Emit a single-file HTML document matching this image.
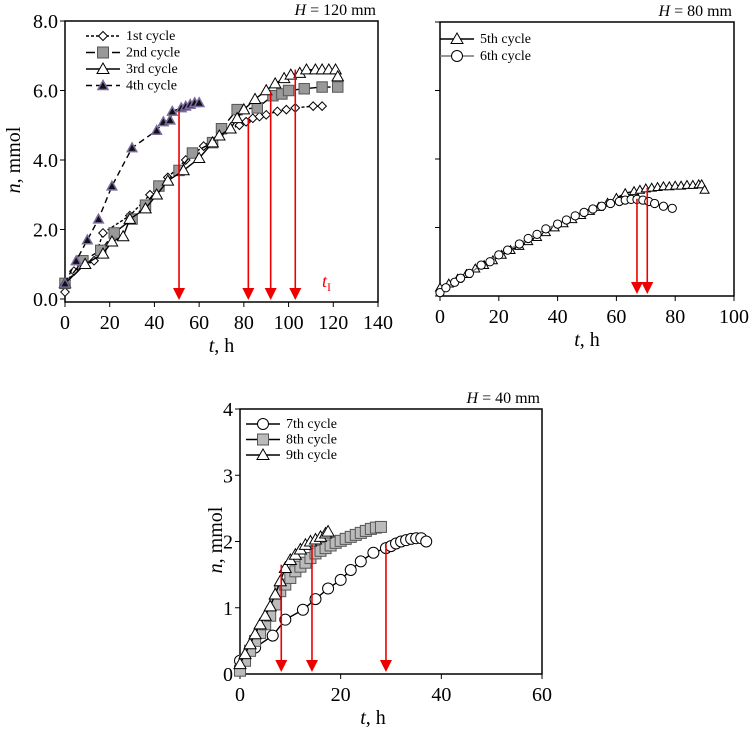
<!DOCTYPE html>
<html><head><meta charset="utf-8"><style>
body{margin:0;background:#fff}
svg text{font-family:"Liberation Serif",serif;fill:#000}
</style></head><body>
<svg id="s" width="750" height="727" xmlns="http://www.w3.org/2000/svg"></svg>
<script>
// ---- Chart A (H=120 mm) data ----
const aT1=[0,4,13,17,29,38,46,54,62,70,78,81,84,87,90,95,99,103,111,115];
const aN1=[0.2,0.8,1.1,1.9,2.4,3.0,3.5,4.0,4.4,4.8,5.0,5.1,5.2,5.25,5.3,5.4,5.45,5.5,5.55,5.55];
const aT2=[0,8,16,22,30,36,42,51,57,66,70,77,86,93,97,100,107,115,122];
const aN2=[0.45,1.1,1.4,1.9,2.3,2.7,3.25,3.7,4.2,4.5,4.9,5.45,5.5,5.85,5.9,6.0,6.05,6.1,6.1];
const aT3=[0,9,17,21,26,29,36,41,46,53,60,66,69,74,77,80,85,90,94,98,101,105,108,112,115,118,121,122];
const aN3=[0.45,1.0,1.3,1.65,1.8,2.3,2.6,3.0,3.4,3.7,4.05,4.5,4.7,4.9,5.2,5.45,5.75,6.0,6.2,6.35,6.45,6.5,6.6,6.6,6.6,6.6,6.6,6.4];
const aT4=[0,5,10,15,21,30,41,44,47,48,52,54,56,58,60];
const aN4=[0.45,1.1,1.7,2.3,3.25,4.35,4.85,5.1,5.15,5.4,5.5,5.55,5.6,5.65,5.65];
const aArrT=[51,82,92,103];
const aArrN=[5.4,5.2,5.95,6.6];
const aXTicks=[0,20,40,60,80,100,120,140];
const aYTicks=["0.0","2.0","4.0","6.0","8.0"];
// ---- Chart B (H=80 mm) data ----
const bT5=[0,3,6,9,12,15,18,21,24,27,30,33,36,39,42,45,48,51,54,57,60,63,66,68,70,72,74,76,78,80,82,84,86,88,89,90];
const bN5=[0.12,0.18,0.25,0.32,0.4,0.45,0.52,0.6,0.67,0.73,0.8,0.86,0.93,1.0,1.06,1.12,1.18,1.24,1.3,1.36,1.43,1.5,1.53,1.55,1.57,1.58,1.59,1.6,1.6,1.61,1.61,1.62,1.62,1.63,1.63,1.55];
const bT6=[0,2,5,7,10,14,17,20,23,27,30,33,36,40,43,46,49,52,55,58,61,63,65,67,69,71,73,76,79];
const bN6=[0.05,0.12,0.2,0.26,0.33,0.45,0.5,0.6,0.67,0.76,0.84,0.9,0.98,1.05,1.11,1.17,1.22,1.27,1.31,1.35,1.38,1.4,1.41,1.41,1.4,1.38,1.35,1.31,1.28];
const bArrT=[67,70.5];
const bArrN=[1.42,1.58];
const bXTicks=[0,20,40,60,80,100];
// ---- Chart C (H=40 mm) data ----
const cT7=[0,3,6.5,9,12.5,15,17.5,20,22,24,26.5,29,30,31,32,33,34,35,36,37];
const cN7=[0.2,0.4,0.58,0.82,0.97,1.13,1.29,1.42,1.57,1.7,1.83,1.9,1.93,1.97,2.0,2.02,2.04,2.05,2.05,2.0];
const cT8=[0,1,2,3,4,5,6,7,8,9,10,11,12,13,14,15,16,17,18,19,20,21,22,23,24,25,26,27,28];
const cN8=[0.05,0.2,0.35,0.5,0.62,0.75,0.88,1.05,1.25,1.35,1.45,1.55,1.62,1.68,1.75,1.82,1.86,1.9,1.94,1.98,2.01,2.04,2.07,2.1,2.13,2.16,2.19,2.21,2.22];
const cT9=[0,1,2,3,4,5,6,7,8,9,10,11,12,13,14,15,16,17,17.5];
const cN9=[0.15,0.3,0.45,0.6,0.75,0.88,1.02,1.2,1.4,1.6,1.72,1.8,1.88,1.95,2.0,2.03,2.07,2.12,2.15];
const cArrT=[8.2,14.3,29];
const cArrN=[1.65,1.95,1.95];
const cXTicks=[0,20,40,60];
const cYTicks=["0","1","2","3","4"];

const S=document.getElementById('s');const NS="http://www.w3.org/2000/svg";
function el(t,a,p){const e=document.createElementNS(NS,t);for(const k in a)e.setAttribute(k,a[k]);(p||S).appendChild(e);return e;}
function txt(x,y,s,sz,anch,p){const e=el('text',{x:x,y:y,'font-size':sz,'text-anchor':anch||'middle'},p);e.textContent=s;return e;}
function marker(g,type,x,y,fill,k){
  k=k||1;let m;
  if(type==='d')m=el('path',{d:`M${x},${y-4.5*k}L${x+4.5*k},${y}L${x},${y+4.5*k}L${x-4.5*k},${y}Z`,fill:fill,stroke:'#000','stroke-width':1},g);
  else if(type==='s')m=el('rect',{x:x-5.5*k,y:y-5.5*k,width:11*k,height:11*k,fill:fill,stroke:'#555','stroke-width':1},g);
  else if(type==='t')m=el('path',{d:`M${x},${y-6*k}L${x+6*k},${y+4.5*k}L${x-6*k},${y+4.5*k}Z`,fill:fill,stroke:'#000','stroke-width':1},g);
  else if(type==='f')m=el('path',{d:`M${x},${y-5*k}L${x+5*k},${y+4*k}L${x-5*k},${y+4*k}Z`,fill:fill,stroke:'#7a6aa0','stroke-width':1.5},g);
  else m=el('circle',{cx:x,cy:y,r:5.5*k,fill:fill,stroke:'#000','stroke-width':1},g);
  return m;
}
function chart(o){
  const g=el('g',{});
  const X=v=>o.x0+(v-o.xmin)/(o.xmax-o.xmin)*(o.x1-o.x0);
  const Y=v=>o.y0-(v-o.ymin)/(o.ymax-o.ymin)*(o.y0-o.y1);
  const fr=el('rect',{x:o.x0,y:o.y1,width:o.x1-o.x0,height:o.fb-o.y1,fill:'none',stroke:'#000','stroke-width':1.5},g);
  
  o.xt.forEach(v=>{el('line',{x1:X(v),x2:X(v),y1:o.fb,y2:o.fb+5,stroke:'#000'},g);
    const t=txt(X(v),o.fb+27,String(v),20,'middle',g);});
  o.yv.forEach((v,i)=>{el('line',{x1:o.x0-5,x2:o.x0,y1:Y(v),y2:Y(v),stroke:'#000'},g);
    if(o.yl){const t=txt(o.x0-7,Y(v)+7,o.yl[i],20,'end',g);}});
  const xt=el('text',{x:(o.x0+o.x1)/2-(o.xoff||0),y:o.fb+50,'font-size':20,'text-anchor':'middle'},g);
  xt.innerHTML='<tspan font-style="italic">t</tspan>, h';
  if(o.ylab){const yt=el('text',{x:0,y:0,'font-size':20,'text-anchor':'middle',transform:`translate(${o.ylab[0]},${o.ylab[1]}) rotate(-90)`},g);
    yt.innerHTML='<tspan font-style="italic">n</tspan>, mmol';}
  const ht=el('text',{x:o.x1-2,y:o.y1-6,'font-size':16,'text-anchor':'end'},g);
  ht.innerHTML=`<tspan font-style="italic">H</tspan> = ${o.H} mm`;
  o.series.forEach(s=>{
    const sg=el('g',{},g);
    const pts=s.t.map((v,i)=>X(v)+','+Y(s.n[i])).join(' ');
    el('polyline',{points:pts,fill:'none',stroke:s.lc||'#000','stroke-width':1.4,'stroke-dasharray':s.dash||'none'},sg);
    s.t.forEach((v,i)=>{const m=marker(sg,s.m,X(v),Y(s.n[i]),s.fill,o.mk);});
  });
  o.arr.t.forEach((v,i)=>{const ag=el('g',{},g);
    const x=X(v),yb=o.fb-2;el('line',{x1:x,x2:x,y1:Y(o.arr.n[i]),y2:yb-10,stroke:'#e00','stroke-width':1.6},ag);
    el('path',{d:`M${x-6},${yb-12}L${x+6},${yb-12}L${x},${yb}Z`,fill:'#e00'},ag);});
  o.series.forEach((s,i)=>{const lg=el('g',{},g);
    const ly=o.leg[1]+i*o.leg[2];
    el('line',{x1:o.leg[0],x2:o.leg[0]+34,y1:ly,y2:ly,stroke:s.lc||'#000','stroke-width':1.6,'stroke-dasharray':s.dash||'none'},lg);
    marker(lg,s.m,o.leg[0]+17,ly,s.fill);
    txt(o.leg[0]+40,ly+4,s.label,14,'start',lg);});
  return {X,Y,g};
}
chart({name:'chart-h120',x0:65,x1:378,y1:21,y0:299,fb:302,xmin:0,xmax:140,ymin:0,ymax:8,xt:aXTicks,yv:[0,2,4,6,8],yl:aYTicks,ylab:[20,160],H:120,mk:0.95,
 series:[{name:'series-1st-cycle',t:aT1,n:aN1,m:'d',fill:'#fff',dash:'3,2',label:'1st cycle'},
 {name:'series-2nd-cycle',t:aT2,n:aN2,m:'s',fill:'#999',dash:'9,4',label:'2nd cycle'},
 {name:'series-3rd-cycle',t:aT3,n:aN3,m:'t',fill:'#fff',label:'3rd cycle'},
 {name:'series-4th-cycle',t:aT4,n:aN4,m:'f',fill:'#111',dash:'6,4',label:'4th cycle'}],
 arr:{t:aArrT,n:aArrN},leg:[86,36,16.5]});
const ti=el('text',{x:322,y:287,'font-size':18,fill:'#e00'});ti.innerHTML='<tspan font-style="italic" fill="#e00">t</tspan><tspan font-size="12" dy="4" fill="#e00">I</tspan>';

chart({name:'chart-h80',x0:440,x1:734,y1:22,y0:296,fb:296,xmin:0,xmax:100,ymin:0,ymax:4,xt:bXTicks,yv:[0,1,2,3,4],H:80,mk:0.75,
 series:[{name:'series-5th-cycle',t:bT5,n:bN5,m:'t',fill:'#fff',label:'5th cycle'},
 {name:'series-6th-cycle',t:bT6,n:bN6,m:'c',fill:'#fff',lc:'#777',label:'6th cycle'}],
 arr:{t:bArrT,n:bArrN},leg:[440,39,17]});
chart({name:'chart-h40',x0:240,x1:542,y1:409,y0:674,fb:674,xmin:0,xmax:60,ymin:0,ymax:4,xt:cXTicks,yv:[0,1,2,3,4],yl:cYTicks,ylab:[222,540],H:40,xoff:18,mk:1,
 series:[{name:'series-7th-cycle',t:cT7,n:cN7,m:'c',fill:'#fff',label:'7th cycle'},
 {name:'series-8th-cycle',t:cT8,n:cN8,m:'s',fill:'#bbb',label:'8th cycle'},
 {name:'series-9th-cycle',t:cT9,n:cN9,m:'t',fill:'#fff',label:'9th cycle'}],
 arr:{t:cArrT,n:cArrN},leg:[246,424,15.5]});
</script>
</body></html>
